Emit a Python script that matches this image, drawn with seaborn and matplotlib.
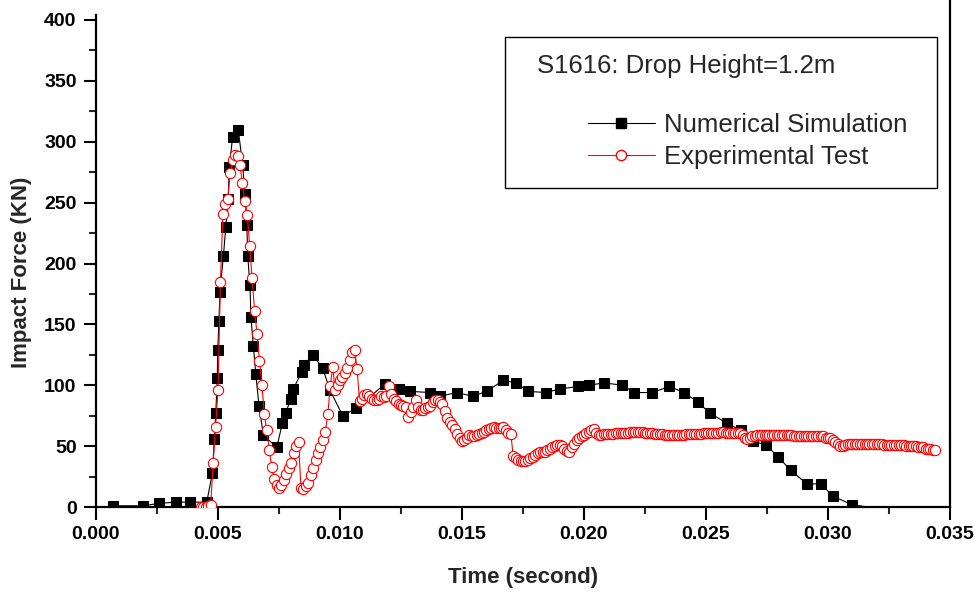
import numpy as np
import seaborn as sns
import matplotlib.pyplot as plt
from matplotlib.lines import Line2D
from matplotlib.patches import Rectangle
from matplotlib.ticker import MultipleLocator, FormatStrFormatter

# Numerical simulation (time in ms, force in KN)
num_time_ms = [0.71, 1.94, 2.58, 3.27, 3.85, 4.54, 4.77, 4.85, 4.91, 4.97,
               4.99, 5.04, 5.08, 5.22, 5.32, 5.42, 5.46, 5.60, 5.83, 6.01,
               6.11, 6.18, 6.22, 6.31, 6.35, 6.45, 6.55, 6.68, 6.86, 7.41,
               7.64, 7.77, 7.99, 8.09, 8.43, 8.54, 8.88, 9.29, 9.59, 10.11,
               10.66, 11.84, 12.42, 12.87, 13.69, 14.10, 14.78, 15.44, 16.01, 16.69,
               17.21, 17.72, 18.43, 19.02, 19.77, 20.22, 20.82, 21.57, 22.06, 22.80,
               23.50, 24.10, 24.68, 25.16, 25.85, 26.42, 26.94, 27.46, 27.96, 28.48,
               29.13, 29.71, 30.19, 30.97, 33.28, 34.06]
num_force = [1, 1, 3, 4, 4, 4, 28, 56, 77, 106,
             129, 153, 177, 206, 230, 253, 279, 304, 310, 281,
             257, 232, 206, 182, 156, 132, 109, 83, 59, 49,
             69, 77, 89, 97, 111, 117, 125, 114, 96, 75,
             81, 101, 97, 95, 94, 91, 94, 91, 95, 104,
             102, 95, 94, 97, 99, 100, 102, 100, 94, 94,
             99, 94, 86, 77, 69, 63, 54, 51, 41, 30,
             19, 19, 9, 2, -5, -5]

# Experimental test (time in ms, force in KN)
exp_time_ms = [
    4.3, 4.4, 4.5, 4.6, 4.7, 4.8, 4.9,
    5.0, 5.1, 5.2, 5.3, 5.4, 5.5, 5.6, 5.7, 5.8, 5.9,
    6.0, 6.1, 6.2, 6.3, 6.4, 6.5, 6.6, 6.7, 6.8, 6.9,
    7.0, 7.1, 7.2, 7.3, 7.4, 7.5, 7.6, 7.7, 7.8, 7.9,
    8.0, 8.1, 8.2, 8.3, 8.4, 8.5, 8.6, 8.7, 8.8, 8.9,
    9.0, 9.1, 9.2, 9.3, 9.4, 9.5, 9.6, 9.7, 9.8, 9.9,
    10.0, 10.1, 10.2, 10.3, 10.4, 10.5, 10.6, 10.7, 10.8, 10.9,
    11.0, 11.1, 11.2, 11.3, 11.4, 11.5, 11.6, 11.7, 11.8, 11.9,
    12.0, 12.1, 12.2, 12.3, 12.4, 12.5, 12.6, 12.7, 12.8, 12.9,
    13.0, 13.1, 13.2, 13.3, 13.4, 13.5, 13.6, 13.7, 13.8, 13.9,
    14.0, 14.1, 14.2, 14.3, 14.4, 14.5, 14.6, 14.7, 14.8, 14.9,
    15.0, 15.1, 15.2, 15.3, 15.4, 15.5, 15.6, 15.7, 15.8, 15.9,
    16.0, 16.1, 16.2, 16.3, 16.4, 16.5, 16.6, 16.7, 16.8, 16.9,
    17.0, 17.1, 17.2, 17.3, 17.4, 17.5, 17.6, 17.7, 17.8, 17.9,
    18.0, 18.1, 18.2, 18.3, 18.4, 18.5, 18.6, 18.7, 18.8, 18.9,
    19.0, 19.1, 19.2, 19.3, 19.4, 19.5, 19.6, 19.7, 19.8, 19.9,
    20.0, 20.1, 20.2, 20.3, 20.4, 20.5, 20.6, 20.7, 20.8, 20.9,
    21.0, 21.1, 21.2, 21.3, 21.4, 21.5, 21.6, 21.7, 21.8, 21.9,
    22.0, 22.1, 22.2, 22.3, 22.4, 22.5, 22.6, 22.7, 22.8, 22.9,
    23.0, 23.1, 23.2, 23.3, 23.4, 23.5, 23.6, 23.7, 23.8, 23.9,
    24.0, 24.1, 24.2, 24.3, 24.4, 24.5, 24.6, 24.7, 24.8, 24.9,
    25.0, 25.1, 25.2, 25.3, 25.4, 25.5, 25.6, 25.7, 25.8, 25.9,
    26.0, 26.1, 26.2, 26.3, 26.4, 26.5, 26.6, 26.7, 26.8, 26.9,
    27.0, 27.1, 27.2, 27.3, 27.4, 27.5, 27.6, 27.7, 27.8, 27.9,
    28.0, 28.1, 28.2, 28.3, 28.4, 28.5, 28.6, 28.7, 28.8, 28.9,
    29.0, 29.1, 29.2, 29.3, 29.4, 29.5, 29.6, 29.7, 29.8, 29.9,
    30.0, 30.1, 30.2, 30.3, 30.4, 30.5, 30.6, 30.7, 30.8, 30.9,
    31.0, 31.1, 31.2, 31.3, 31.4, 31.5, 31.6, 31.7, 31.8, 31.9,
    32.0, 32.1, 32.2, 32.3, 32.4, 32.5, 32.6, 32.7, 32.8, 32.9,
    33.0, 33.1, 33.2, 33.3, 33.4, 33.5, 33.6, 33.7, 33.8, 33.9,
    34.0, 34.1, 34.2, 34.3, 34.4,
]
exp_force = [
    0, 0, 0, 1, 2, 36, 66,
    96, 185, 241, 249, 253, 274, 285, 289, 288, 281,
    266, 251, 240, 214, 188, 161, 142, 120, 100, 76,
    63, 47, 33, 23, 18, 16, 18, 22, 27, 32,
    36, 44, 50, 53, 16, 15, 17, 20, 26, 32,
    39, 44, 49, 55, 62, 76, 99, 115, 96, 100,
    104, 107, 110, 114, 121, 127, 129, 113, 87, 89,
    92, 93, 91, 89, 88, 88, 89, 91, 90, 91,
    99, 93, 89, 87, 85, 84, 83, 82, 74, 78,
    82, 88, 82, 80, 80, 81, 82, 83, 86, 88,
    88, 86, 85, 79, 73, 70, 67, 64, 60, 57,
    54, 55, 57, 59, 58, 58, 59, 60, 61, 62,
    63, 64, 65, 66, 65, 65, 65, 66, 63, 61,
    60, 42, 40, 39, 38, 38, 38, 39, 40, 41,
    43, 44, 45, 45, 45, 47, 48, 49, 50, 51,
    51, 50, 48, 46, 45, 49, 52, 55, 57, 58,
    59, 61, 62, 63, 64, 61, 59, 59, 60, 60,
    60, 60, 60, 61, 61, 61, 61, 61, 61, 62,
    62, 62, 62, 62, 62, 61, 61, 61, 61, 60,
    60, 60, 60, 59, 59, 59, 59, 59, 59, 59,
    59, 59, 60, 60, 60, 60, 60, 60, 60, 61,
    61, 61, 61, 61, 61, 61, 62, 62, 61, 61,
    61, 61, 61, 61, 61, 59, 57, 56, 57, 58,
    58, 59, 59, 59, 59, 59, 59, 59, 59, 59,
    59, 59, 59, 59, 59, 59, 58, 58, 58, 58,
    58, 58, 58, 58, 58, 58, 58, 58, 58, 57,
    57, 57, 55, 53, 52, 50, 50, 51, 52, 52,
    52, 52, 52, 52, 52, 52, 52, 52, 52, 52,
    52, 52, 52, 51, 51, 51, 51, 51, 51, 51,
    51, 51, 50, 50, 50, 50, 50, 49, 49, 49,
    48, 48, 48, 47, 47,
]

num_t = np.array(num_time_ms) / 1000
exp_t = np.array(exp_time_ms) / 1000

sns.set_style("ticks")
plt.rcParams['font.family'] = ['Liberation Sans', 'DejaVu Sans']

W, H = 979, 592
fig = plt.figure(figsize=(W / 100, H / 100), dpi=100)
# axes box in pixels: x 96..950, y 0..507 (top spine outside the picture)
ax = fig.add_axes([96 / W, 1 - 507 / H, (950 - 96) / W, 507 / H])

sq_size, circ_size = 7.0, 7.4
sns.lineplot(x=num_t, y=num_force, ax=ax, color='black', linewidth=0.8,
             marker='s', markersize=sq_size, markerfacecolor='black',
             markeredgecolor='black', estimator=None, sort=False, zorder=3)
sns.lineplot(x=exp_t, y=exp_force, ax=ax, color='red', linewidth=0.8,
             marker='o', markersize=circ_size, markerfacecolor='white',
             markeredgecolor='red', markeredgewidth=0.8,
             estimator=None, sort=False, zorder=4)

ax.set_xlim(0, 0.035)
ax.set_ylim(0, 507 / 1.2175)
ax.xaxis.set_major_locator(MultipleLocator(0.005))
ax.xaxis.set_minor_locator(MultipleLocator(0.0025))
ax.xaxis.set_major_formatter(FormatStrFormatter('%.3f'))
ax.set_yticks(np.arange(0, 401, 50))
ax.set_yticks(np.arange(25, 401, 50), minor=True)

for side in ['left', 'bottom', 'right']:
    ax.spines[side].set_linewidth(1.6)
    ax.spines[side].set_color('black')
ax.spines['top'].set_visible(False)
ax.spines['left'].set_bounds(0, 404)

ax.tick_params(axis='both', which='major', length=9, width=1.5, direction='out',
               labelsize=14, pad=5, colors='black')
ax.tick_params(axis='both', which='minor', length=5, width=1.5, direction='out')
for lbl in ax.get_xticklabels() + ax.get_yticklabels():
    lbl.set_fontweight('bold')

ax.set_xlabel('Time (second)', fontsize=16, fontweight='bold')
ax.set_ylabel('Impact Force (KN)', fontsize=16, fontweight='bold')
ax.xaxis.set_label_coords(0.5, -0.118)
ax.yaxis.set_label_coords(-0.075, 0.4635)

# legend box
box = Rectangle((505 / W, 1 - 188 / H), 432 / W, 151 / H, transform=fig.transFigure,
                facecolor='white', edgecolor='black', linewidth=1.0, zorder=5)
fig.patches.append(box)
fig.text(537 / W, 1 - 72.5 / H, 'S1616: Drop Height=1.2m', fontsize=18.5,
         va='baseline', ha='left', zorder=6)

handles = [
    Line2D([], [], color='black', linewidth=0.8, marker='s', markersize=sq_size,
           markerfacecolor='black', markeredgecolor='black'),
    Line2D([], [], color='red', linewidth=0.8, marker='o', markersize=circ_size,
           markerfacecolor='white', markeredgecolor='red'),
]
leg = fig.legend(handles, ['Numerical Simulation', 'Experimental Test'],
                 loc='upper left', bbox_to_anchor=(588 / W, 1 - 113 / H),
                 frameon=False, fontsize=18.5, handlelength=2.6,
                 handletextpad=0.35, labelspacing=0.3, borderpad=0,
                 borderaxespad=0)
leg.set_zorder(6)

fig.savefig('out.png', dpi=100)
